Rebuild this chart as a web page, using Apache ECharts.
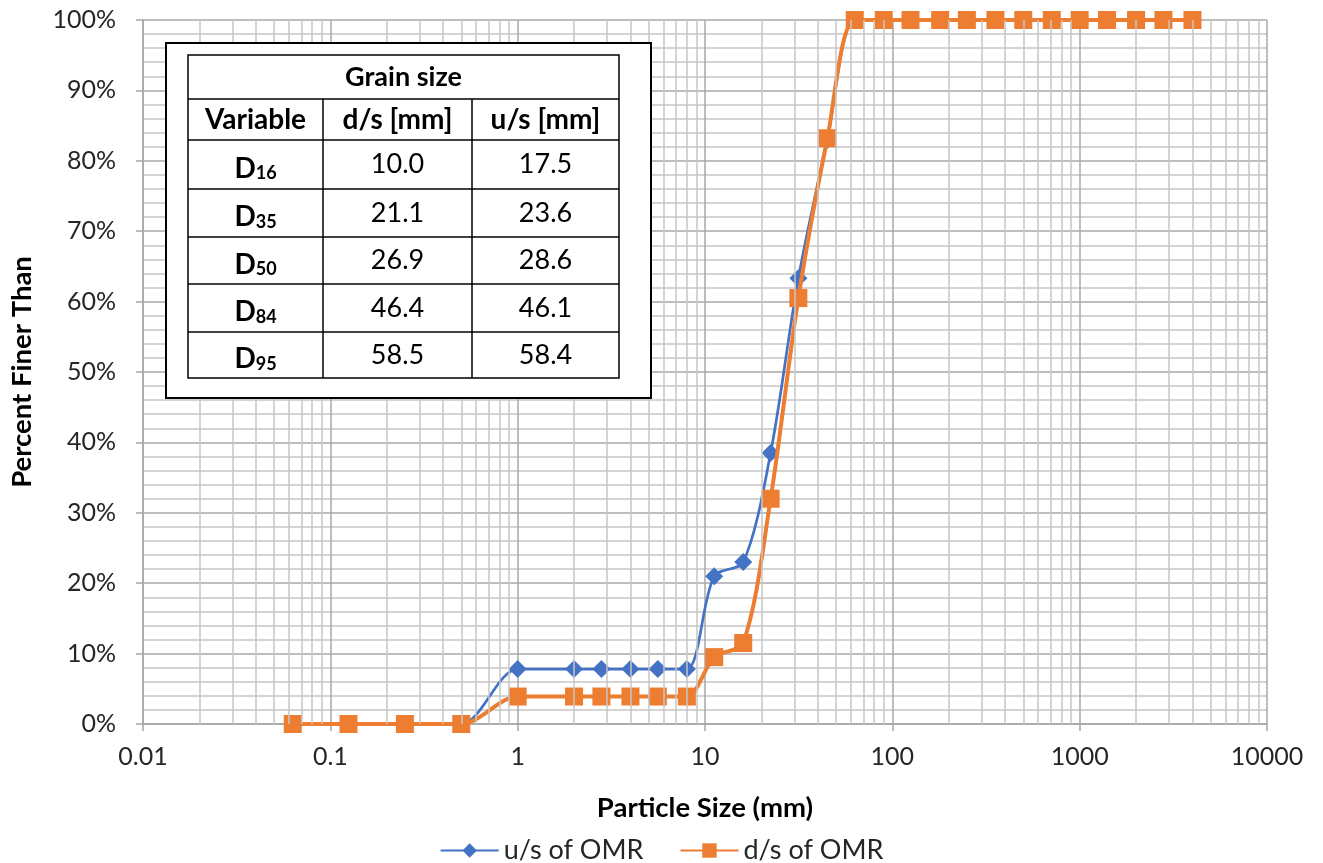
<!DOCTYPE html>
<html><head><meta charset="utf-8">
<script src="https://cdn.jsdelivr.net/npm/echarts@6/dist/echarts.min.js"></script>
<style>html,body{margin:0;padding:0;background:#fff}#c{width:1323px;height:863px}</style>
</head><body><div id="c"></div>
<script>
// ---- data ----
const sieveSizes = [0.063,0.125,0.25,0.5,1,2,2.8,4,5.6,8,11.2,16,22.4,31.5,45,63,90,125,180,250,355,500,710,1000,1400,2000,2800,4000];
const usPercent = [0,0,0,0,7.8,7.8,7.8,7.8,7.8,7.8,21.0,23.0,38.5,63.3,83.0,100,100,100,100,100,100,100,100,100,100,100,100,100];
const dsPercent = [0,0,0,0,3.9,3.9,3.9,3.9,3.9,3.9,9.5,11.5,32.0,60.5,83.2,100,100,100,100,100,100,100,100,100,100,100,100,100];
const seriesNames = ['u/s of OMR','d/s of OMR'];
const xMin = 0.01, xMax = 10000;
const minorMultipliers = [2,3,4,5,6,7,8,9];
const decadeStarts = [0.01,0.1,1,10,100,1000];
const tableTitle = 'Grain size';
const tableHeaders = ['Variable','d/s [mm]','u/s [mm]'];
const tableVarSubs = ['16','35','50','84','95'];
const tableDs = ['10.0','21.1','26.9','46.4','58.5'];
const tableUs = ['17.5','23.6','28.6','46.1','58.4'];

// minor vertical grid positions (tick positions, not data)
const minorX = [];
decadeStarts.forEach(d => minorMultipliers.forEach(m => minorX.push(+(d*m).toPrecision(6))));

const FONT = 'Lato';
const G = {l:140, r:1267, t:20, b:724};
const MAJOR = '#a9a9a9', MINOR = '#c6c6c6';

// ---- table graphic ----
const tx = [188,323,472,619];
const ty = [55,99,140,189,237,284,332,378];
const els = [];
els.push({type:'rect', shape:{x:166,y:43,width:485,height:355}, style:{fill:'#fff',stroke:'#000',lineWidth:2}, z:100});
els.push({type:'rect', shape:{x:tx[0],y:ty[0],width:tx[3]-tx[0],height:ty[7]-ty[0]}, style:{fill:'#fff',stroke:'#000',lineWidth:1.5}, z:101});
for (let i=1;i<7;i++) els.push({type:'line', shape:{x1:tx[0],y1:ty[i],x2:tx[3],y2:ty[i]}, style:{stroke:'#000',lineWidth:1.5}, z:102});
for (let j=1;j<3;j++) els.push({type:'line', shape:{x1:tx[j],y1:ty[1],x2:tx[j],y2:ty[7]}, style:{stroke:'#000',lineWidth:1.5}, z:102});
const cx = j => (tx[j]+tx[j+1])/2, cy = i => (ty[i]+ty[i+1])/2;
function txt(x,y,text,opt){ return {type:'text', x, y, z:103, style:Object.assign({text, fill:'#000', fontFamily:FONT, fontSize:27, align:'center', verticalAlign:'middle'}, opt||{})}; }
els.push(txt((tx[0]+tx[3])/2, cy(0), tableTitle, {fontWeight:'bold', fontSize:27}));
tableHeaders.forEach((h,j)=>els.push(txt(cx(j), cy(1), h, {fontWeight:'bold', fontSize:28})));
tableVarSubs.forEach((s,i)=>{
  els.push({type:'text', x:cx(0), y:cy(i+2)+2, z:103, style:{
    text:'{b|D}{s|'+s+'}', align:'center', verticalAlign:'middle',
    rich:{ b:{fontFamily:FONT, fontWeight:'bold', fontSize:28, fill:'#000', lineHeight:32, verticalAlign:'bottom'},
           s:{fontFamily:FONT, fontWeight:'bold', fontSize:18, fill:'#000', lineHeight:16, verticalAlign:'bottom'} }}});
  els.push(txt(cx(1), cy(i+2), tableDs[i], {fontSize:27}));
  els.push(txt(cx(2), cy(i+2), tableUs[i], {fontSize:27}));
});

const chart = echarts.init(document.getElementById('c'), null, {renderer:'canvas'});
chart.setOption({
  animation:false,
  backgroundColor:'#fff',
  grid:{left:G.l, right:1323-G.r, top:G.t, bottom:863-G.b, containLabel:false},
  legend:{
    data:seriesNames, top:832, left:'center', itemWidth:58, itemHeight:18, itemGap:36,
    textStyle:{fontFamily:FONT, fontSize:27, color:'#262626'}
  },
  xAxis:{
    type:'log', logBase:10, min:xMin, max:xMax,
    name:'Particle Size (mm)', nameLocation:'middle', nameGap:70,
    nameTextStyle:{fontFamily:FONT, fontWeight:'bold', fontSize:27.5, color:'#000'},
    axisLine:{show:true, onZero:false, lineStyle:{color:'#a6a6a6', width:1.5}},
    axisTick:{show:true, length:7, lineStyle:{color:'#a6a6a6', width:1.5}},
    axisLabel:{fontFamily:FONT, fontSize:25, color:'#262626', margin:20,
      formatter: v => String(parseFloat(Number(v).toPrecision(6)))},
    splitLine:{show:true, lineStyle:{color:MAJOR, width:1.5}},
    minorTick:{show:false}, minorSplitLine:{show:false}
  },
  yAxis:{
    type:'value', min:0, max:100, interval:10,
    name:'Percent Finer Than', nameLocation:'middle', nameGap:107, nameRotate:90,
    nameTextStyle:{fontFamily:FONT, fontWeight:'bold', fontSize:27.5, color:'#000'},
    axisLine:{show:true, lineStyle:{color:'#a6a6a6', width:1.5}},
    axisTick:{show:true, length:7, lineStyle:{color:'#a6a6a6', width:1.5}},
    axisLabel:{fontFamily:FONT, fontSize:25, color:'#262626', margin:27, formatter:'{value}%'},
    splitLine:{show:true, lineStyle:{color:MAJOR, width:1.5}},
    minorTick:{show:false, splitNumber:5},
    minorSplitLine:{show:true, lineStyle:{color:MINOR, width:1.5}}
  },
  graphic:{elements:els},
  series:[
    { name:'_minorgrid', type:'line', data:[], silent:true, z:1,
      markLine:{ silent:true, symbol:['none','none'], animation:false, label:{show:false},
        lineStyle:{color:MINOR, width:1.5, type:'solid'},
        emphasis:{disabled:true},
        data: minorX.map(v=>({xAxis:v})) } },
    { name:seriesNames[0], type:'line', z:3, smooth:0.3,
      data: sieveSizes.map((x,i)=>[x, usPercent[i]]),
      symbol:'diamond', symbolSize:18, itemStyle:{color:'#4472C4'},
      lineStyle:{color:'#4472C4', width:2.7} },
    { name:seriesNames[1], type:'line', z:4, smooth:0.3,
      data: sieveSizes.map((x,i)=>[x, dsPercent[i]]),
      symbol:'rect', symbolSize:18, itemStyle:{color:'#ED7D31'},
      lineStyle:{color:'#ED7D31', width:4} }
  ]
});
</script></body></html>
